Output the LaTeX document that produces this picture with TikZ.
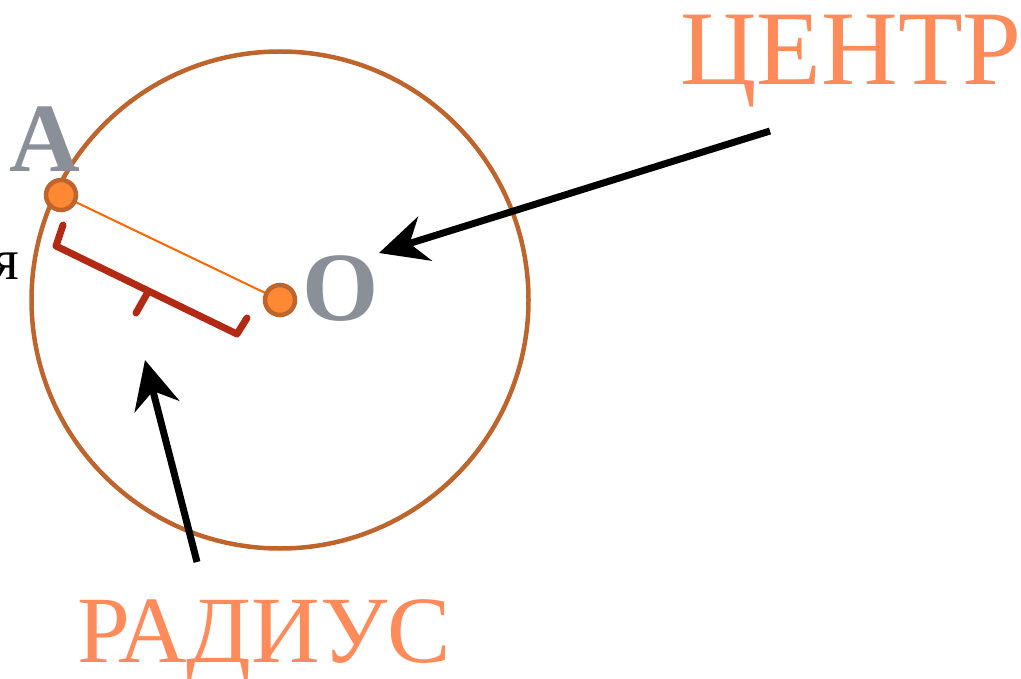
\documentclass[tikz,border=0pt]{standalone}
\usepackage{fontspec}
\setmainfont{Liberation Serif}
\usetikzlibrary{arrows.meta}
\definecolor{circ}{RGB}{190,100,45}
\definecolor{ptfill}{RGB}{255,136,51}
\definecolor{seg}{RGB}{255,102,0}
\definecolor{brace}{RGB}{178,42,20}
\definecolor{lbl}{RGB}{255,138,90}
\definecolor{gry}{RGB}{138,143,152}
\tikzset{
  pt/.style={circle,draw=circ,fill=ptfill,line width=4.5pt,minimum size=30pt,inner sep=0pt},
  bigarrow/.style={line width=7pt,-{Stealth[length=48pt,width=46pt,inset=16pt]}},
  biglabel/.style={text=lbl,inner sep=0pt,anchor=base},
  letter/.style={text=gry,font=\fontsize{98}{100}\selectfont\bfseries,inner sep=0pt,anchor=base},
  bracestyle/.style={brace,line width=7pt,line cap=round,line join=round},
}
\begin{document}
\begin{tikzpicture}[x=1pt,y=-1pt]
\useasboundingbox (0,0) rectangle (1021,679);
\node[circle,draw=circ,line width=4.5pt,minimum size=497pt,inner sep=0pt] (c) at (280,300) {};
\draw[seg,line width=2pt] (61,195) -- (280,300);
\node[pt] (A) at (61,195) {};
\node[pt] (O) at (280,300) {};
\draw[bracestyle] (63,225) -- (56,246) -- (237,334) -- (247,318);
\draw[bracestyle] (148,292) -- (136,313);
\node[letter] (la) at (45,172) {A};
\node[letter] (lo) at (341,321) {O};
\node[font=\fontsize{58}{60}\selectfont,inner sep=0pt,anchor=base east] (ya) at (19,280) {я};
\node[biglabel,font=\fontsize{106}{112}\selectfont] (centr) at (851,85) {ЦЕНТР};
\node[biglabel,font=\fontsize{95}{100}\selectfont] (rad) at (264,662) {РАДИУС};
\coordinate (t1) at (770,131);
\coordinate (h1) at (379,253);
\coordinate (t2) at (197,562);
\coordinate (h2) at (145,360);
\draw[bigarrow] (t1) -- (h1);
\draw[bigarrow] (t2) -- (h2);
\end{tikzpicture}
\end{document}
